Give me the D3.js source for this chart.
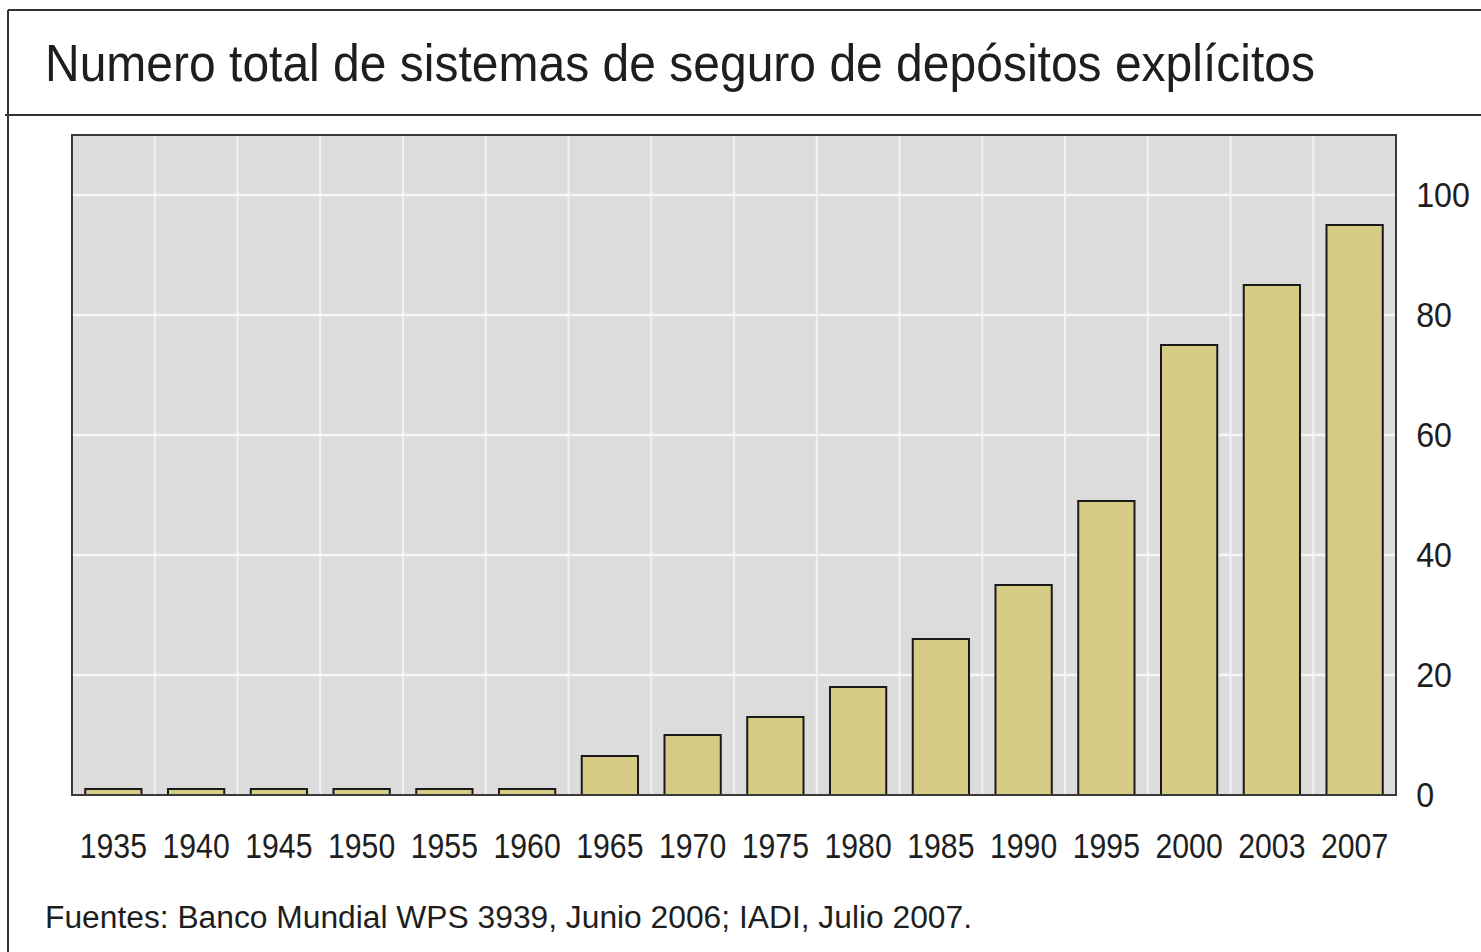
<!DOCTYPE html>
<html>
<head>
<meta charset="utf-8">
<script src="https://cdn.jsdelivr.net/npm/d3@7"></script>
<style>
  body { margin: 0; background: #fff; }
  svg text { font-family: Arial, "Liberation Sans", sans-serif; fill: #1e1e1e; }
</style>
</head>
<body>
<div class="chart"></div>
<script>
var svgWidth = 1481;
var svgHeight = 952;

// data
var years = ["1935", "1940", "1945", "1950", "1955", "1960", "1965", "1970",
  "1975", "1980", "1985", "1990", "1995", "2000", "2003", "2007"];
var systems = [1, 1, 1, 1, 1, 1, 6.5, 10, 13, 18, 26, 35, 49, 75, 85, 95];
var yTicks = [0, 20, 40, 60, 80, 100];

var titleText = "Numero total de sistemas de seguro de depósitos explícitos";
var sourceText = "Fuentes: Banco Mundial WPS 3939, Junio 2006; IADI, Julio 2007.";

var plot = { left: 72, right: 1396, top: 135, bottom: 795 };

var svg = d3.select(".chart")
  .append("svg")
  .attr("width", svgWidth)
  .attr("height", svgHeight);

// outer frame: top rule, title rule, left rule
svg.append("line")
  .attr("x1", 8).attr("x2", svgWidth).attr("y1", 10).attr("y2", 10)
  .attr("stroke", "#333").attr("stroke-width", 2);
svg.append("line")
  .attr("x1", 5).attr("x2", svgWidth).attr("y1", 115).attr("y2", 115)
  .attr("stroke", "#333").attr("stroke-width", 2);
svg.append("line")
  .attr("x1", 8).attr("x2", 8).attr("y1", 10).attr("y2", svgHeight)
  .attr("stroke", "#333").attr("stroke-width", 2);

svg.append("text")
  .attr("x", 45)
  .attr("y", 81)
  .attr("font-size", 52)
  .attr("textLength", 1270)
  .attr("lengthAdjust", "spacingAndGlyphs")
  .text(titleText);

// scales
var xScale = d3.scaleBand()
  .domain(years)
  .range([plot.left, plot.right])
  .paddingInner(0.32)
  .paddingOuter(0.16);

var yScale = d3.scaleLinear()
  .domain([0, 110])
  .range([plot.bottom, plot.top]);

// plot background
svg.append("rect")
  .attr("x", plot.left)
  .attr("y", plot.top)
  .attr("width", plot.right - plot.left)
  .attr("height", plot.bottom - plot.top)
  .attr("fill", "#dcdcdc");

// vertical grid between categories
var step = xScale.step();
svg.append("g")
  .selectAll("line")
  .data(years.slice(1))
  .enter()
  .append("line")
  .attr("x1", (d, i) => plot.left + (i + 1) * step)
  .attr("x2", (d, i) => plot.left + (i + 1) * step)
  .attr("y1", plot.top)
  .attr("y2", plot.bottom)
  .attr("stroke", "#f2f2f2")
  .attr("stroke-width", 2);

// horizontal grid
svg.append("g")
  .selectAll("line")
  .data(yTicks.slice(1))
  .enter()
  .append("line")
  .attr("x1", plot.left)
  .attr("x2", plot.right)
  .attr("y1", d => yScale(d))
  .attr("y2", d => yScale(d))
  .attr("stroke", "#f6f6f6")
  .attr("stroke-width", 2.5);

// bars
svg.append("g")
  .selectAll("rect")
  .data(systems)
  .enter()
  .append("rect")
  .attr("x", (d, i) => xScale(years[i]))
  .attr("y", d => yScale(d))
  .attr("width", xScale.bandwidth())
  .attr("height", d => yScale(0) - yScale(d))
  .attr("fill", "#d6cc86")
  .attr("stroke", "#1a1a1a")
  .attr("stroke-width", 2);

// plot border
svg.append("rect")
  .attr("x", plot.left)
  .attr("y", plot.top)
  .attr("width", plot.right - plot.left)
  .attr("height", plot.bottom - plot.top)
  .attr("fill", "none")
  .attr("stroke", "#3a3a3a")
  .attr("stroke-width", 2);

// right axis
var rightAxis = d3.axisRight(yScale)
  .tickValues(yTicks)
  .tickSize(0)
  .tickPadding(22);

var yAxis = svg.append("g")
  .attr("transform", `translate(${plot.right}, 0)`)
  .call(rightAxis);
yAxis.select(".domain").remove();
yAxis.selectAll("text")
  .attr("font-size", 35)
  .attr("font-family", "Arial, 'Liberation Sans', sans-serif")
  .attr("fill", "#1e1e1e")
  .attr("transform", "scale(0.92,1)");

// bottom axis
var bottomAxis = d3.axisBottom(xScale)
  .tickSize(0)
  .tickPadding(37);

var xAxis = svg.append("g")
  .attr("transform", `translate(0, ${plot.bottom})`)
  .call(bottomAxis);
xAxis.select(".domain").remove();
xAxis.selectAll("text")
  .attr("font-size", 36)
  .attr("font-family", "Arial, 'Liberation Sans', sans-serif")
  .attr("fill", "#1e1e1e")
  .attr("transform", "scale(0.84,1)");

// source note
svg.append("text")
  .attr("x", 45)
  .attr("y", 928)
  .attr("font-size", 31)
  .attr("textLength", 927)
  .attr("lengthAdjust", "spacingAndGlyphs")
  .text(sourceText);
</script>
</body>
</html>
